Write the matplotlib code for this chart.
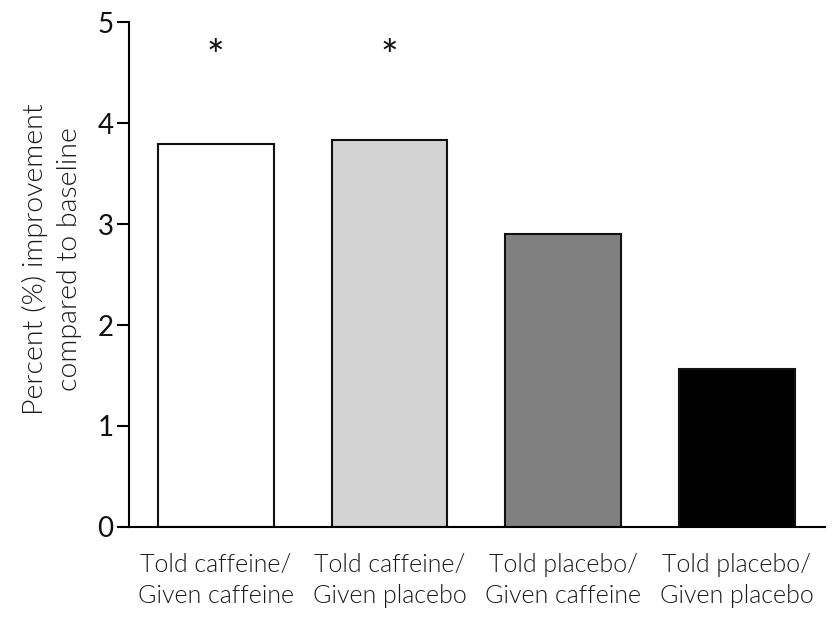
import matplotlib
matplotlib.use("Agg")
import matplotlib.pyplot as plt

categories = ["Told caffeine/\nGiven caffeine", "Told caffeine/\nGiven placebo",
              "Told placebo/\nGiven caffeine", "Told placebo/\nGiven placebo"]
values = [3.79, 3.83, 2.90, 1.56]
colors = ["#ffffff", "#d3d3d3", "#808080", "#000000"]
significant = [True, True, False, False]
yticks = [0, 1, 2, 3, 4, 5]

plt.rcParams['font.family'] = ['Lato', 'DejaVu Sans']

fig = plt.figure(figsize=(8.32, 6.17), dpi=100)
ax = fig.add_axes([0.155, 0.146, 0.837, 0.818])

x = list(range(len(values)))
ax.bar(x, values, width=0.665, color=colors, edgecolor="#111111", linewidth=1.5, zorder=2)
for xi, v, s in zip(x, values, significant):
    if s:
        ax.text(xi, 4.53, "*", ha="center", va="baseline", fontsize=30, color="#111111")

ax.set_xlim(-0.5, 3.51)
ax.set_ylim(0, 5)
ax.set_yticks(yticks)
ax.set_yticklabels([str(t) for t in yticks], fontsize=20, color="#111111")
ax.set_xticks(x)
ax.set_xticklabels(categories, fontsize=18, fontweight=300, linespacing=1.35, color="#1a1a1a")
ax.tick_params(axis="x", length=0, pad=19)
ax.tick_params(axis="y", length=9, width=1.5, direction="out", pad=2)
for side in ["top", "right"]:
    ax.spines[side].set_visible(False)
for side in ["left", "bottom"]:
    ax.spines[side].set_linewidth(1.5)
ax.set_ylabel("Percent (%) improvement\ncompared to baseline", fontsize=20.5, fontweight=300,
              linespacing=1.45, color="#1a1a1a")
ax.yaxis.set_label_coords(-0.068, 0.53)

fig.savefig("out.png", dpi=100)
